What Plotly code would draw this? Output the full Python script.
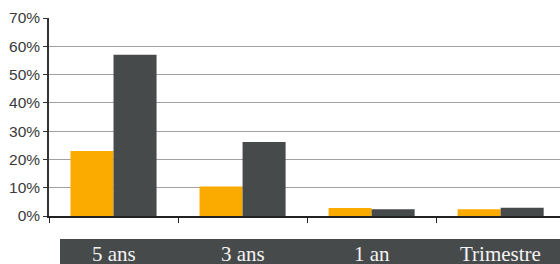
import plotly.graph_objects as go

categories = ["5 ans", "3 ans", "1 an", "Trimestre"]
series_a = [23.0, 10.4, 2.8, 2.4]
series_b = [57.0, 26.2, 2.4, 2.9]
y_ticks = [0, 10, 20, 30, 40, 50, 60, 70]
y_labels = [f"{v}%" for v in y_ticks]

ORANGE = "#FBAA00"
DARK = "#474A4B"

fig = go.Figure()
fig.add_trace(go.Bar(x=categories, y=series_a, marker=dict(color=ORANGE, line=dict(width=0)), showlegend=False))
fig.add_trace(go.Bar(x=categories, y=series_b, marker=dict(color=DARK, line=dict(width=0)), showlegend=False))

fig.update_layout(
    width=560, height=264,
    margin=dict(l=49, r=0, t=18, b=48, autoexpand=False),
    paper_bgcolor="white", plot_bgcolor="white",
    barmode="group", bargap=0.333, bargroupgap=0,
    font=dict(family="Liberation Sans, Arial, sans-serif", size=15.5, color="#3a3a3a"),
)
fig.update_xaxes(
    type="category", range=[-0.5, 3.46],
    showticklabels=False, showgrid=False,
    showline=True, linecolor="#222222", linewidth=1.5,
    ticks="outside", tickson="boundaries", ticklen=5, tickcolor="#222222",
)
fig.update_yaxes(
    range=[0, 70], tickvals=y_ticks, ticktext=y_labels,
    showgrid=True, gridcolor="#A0A0A0", gridwidth=1.2,
    showline=True, linecolor="#333333", linewidth=1.5,
    ticks="outside", ticklen=4, tickcolor="#333333",
    zeroline=False, automargin=False,
)
fig.add_shape(type="rect", xref="paper", yref="paper", x0=11/511, x1=1.0, y0=-50/198, y1=-23/198,
              fillcolor=DARK, line=dict(width=0), layer="below")
for c in categories:
    fig.add_annotation(x=c, xref="x", y=-37.5/198, yref="paper", text=c, showarrow=False,
                       yanchor="middle",
                       font=dict(family="Liberation Serif, Times New Roman, serif", size=21, color="#f4f4f4"))

fig.write_html("out.html", config={"displayModeBar": False},
               post_script="document.body.style.margin='0';document.body.style.overflow='hidden';")
